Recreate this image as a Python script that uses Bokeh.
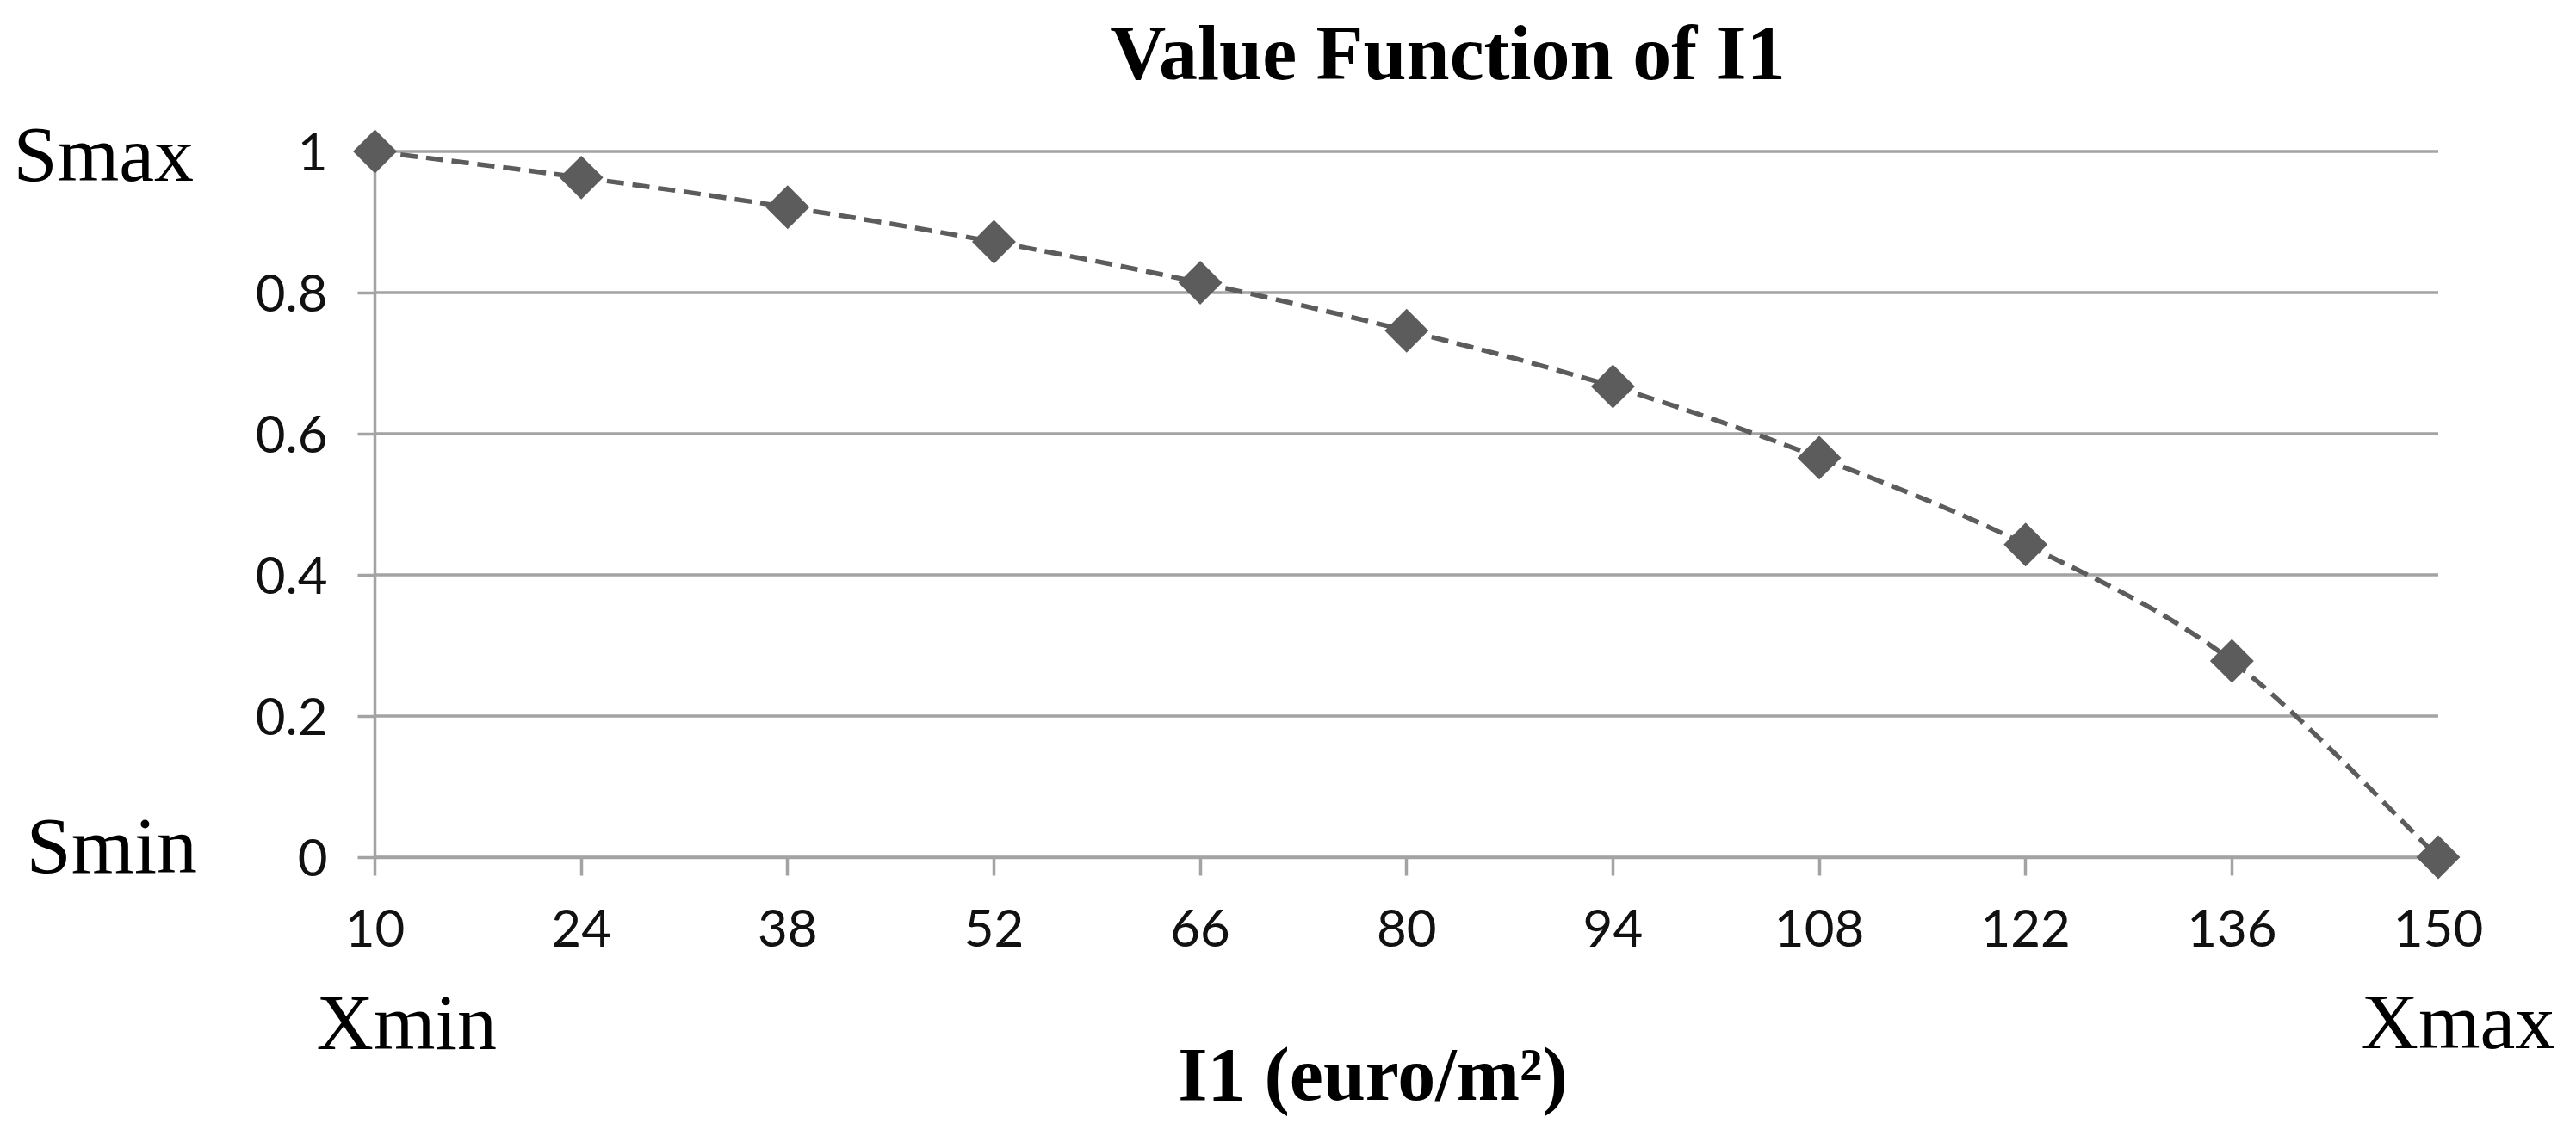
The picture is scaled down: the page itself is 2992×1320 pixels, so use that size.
import numpy as np
from bokeh.plotting import figure
from bokeh.models import Range1d, FixedTicker, CustomJSTickFormatter, Label
from bokeh.embed import file_html
from bokeh.resources import INLINE

# ---------------- data ----------------
chart_title = "Value Function of I1"
x_axis_title = "I1 (euro/m\u00b2)"
x_values = [10, 24, 38, 52, 66, 80, 94, 108, 122, 136, 150]
x_tick_labels = ["10", "24", "38", "52", "66", "80", "94", "108", "122", "136", "150"]
s_values = [1.0, 0.963, 0.921, 0.872, 0.814, 0.746, 0.667, 0.566, 0.443, 0.278, 0.0]
y_ticks = [0, 0.2, 0.4, 0.6, 0.8, 1.0]
y_tick_labels = ["0", "0.2", "0.4", "0.6", "0.8", "1"]
s_max_label = "Smax"
s_min_label = "Smin"
x_min_label = "Xmin"
x_max_label = "Xmax"

# ---------------- layout (pixel geometry of the page) ----------------
W, H = 2976, 1304
OFF = 0
px_x0, px_x1 = 435.0, 2831.5     # x = first / last category
py_y1, py_y0 = 175.5, 995.5      # y = 1 / y = 0
sx = (px_x1 - px_x0) / (x_values[-1] - x_values[0])
sy = (py_y0 - py_y1) / (y_ticks[-1] - y_ticks[0])
x_lo = x_values[0] - (px_x0 - OFF) / sx
x_hi = x_lo + W / sx
y_hi = y_ticks[-1] + (py_y1 - OFF) / sy
y_lo = y_hi - H / sy


def X(px):
    return x_lo + (px - OFF) / sx


def Y(py):
    return y_hi - (py - OFF) / sy


GRID = "#a3a3a3"
SER = "#5c5c5c"

p = figure(width=W, height=H, x_range=Range1d(x_lo, x_hi), y_range=Range1d(y_lo, y_hi),
           title=None, toolbar_location=None, output_backend="svg", min_border=0)
p.outline_line_color = None
p.background_fill_color = "white"
p.border_fill_color = "white"
p.grid.visible = False

# horizontal gridlines across the category span
p.segment(x0=x_values[0], x1=x_values[-1], y0=y_ticks, y1=y_ticks,
          line_color=GRID, line_width=3.5)

# axes
xa = p.xaxis[0]
ya = p.yaxis[0]
xa.fixed_location = 0
ya.fixed_location = x_values[0]
xa.bounds = (x_values[0], x_values[-1])
ya.bounds = (y_ticks[0], y_ticks[-1])
xa.ticker = FixedTicker(ticks=x_values)
ya.ticker = FixedTicker(ticks=y_ticks)
xa.formatter = CustomJSTickFormatter(args=dict(vals=x_values, labs=x_tick_labels),
                                     code="const i = vals.indexOf(tick); return i >= 0 ? labs[i] : '';")
ya.formatter = CustomJSTickFormatter(args=dict(vals=y_ticks, labs=y_tick_labels),
                                     code="const i = vals.indexOf(tick); return i >= 0 ? labs[i] : '';")
for ax, tick_out, standoff in ((xa, 21, 40), (ya, 20, 35)):
    ax.axis_line_color = GRID
    ax.axis_line_width = 3.5
    ax.major_tick_line_color = GRID
    ax.major_tick_line_width = 3.5
    ax.major_tick_in = 0
    ax.major_tick_out = tick_out
    ax.minor_tick_line_color = None
    ax.major_label_text_font = "Lato"
    ax.major_label_text_font_size = "60px"
    ax.major_label_text_color = "#111111"
    ax.major_label_standoff = standoff

# smoothed dashed curve through the points (cubic Bezier segments)
xs = np.asarray(x_values, float)
ys = np.asarray(s_values, float)
xp = np.concatenate([[xs[0]], xs, [xs[-1]]])
yp = np.concatenate([[ys[0]], ys, [ys[-1]]])
n = len(xs)
cx0 = xs[:-1] + (xp[2:n + 1] - xp[0:n - 1]) / 6.0
cy0 = ys[:-1] + (yp[2:n + 1] - yp[0:n - 1]) / 6.0
cx1 = xs[1:] - (xp[3:n + 2] - xp[1:n]) / 6.0
cy1 = ys[1:] - (yp[3:n + 2] - yp[1:n]) / 6.0
curve = p.bezier(x0=xs[:-1], y0=ys[:-1], x1=xs[1:], y1=ys[1:],
                 cx0=cx0, cy0=cy0, cx1=cx1, cy1=cy1,
                 line_color=SER, line_width=5.5, line_dash="20 10")
curve.level = "overlay"

pts = p.scatter(x=x_values, y=s_values, marker="square", size=36, angle=np.pi / 4,
                fill_color=SER, line_color=None)
pts.level = "overlay"

BASE_FIX = 32  # Bokeh's alphabetic placement sits lower than the requested baseline


def add_label(text, px, py, size, bold=False, align="left"):
    p.add_layout(Label(x=X(px), y=Y(py - BASE_FIX), text=text, text_font="Liberation Serif",
                       text_font_size=size, text_font_style="bold" if bold else "normal",
                       text_color="black", text_align=align, text_baseline="alphabetic"))


add_label(chart_title, 1681, 93, "90px", bold=True, align="center")
add_label(x_axis_title, 1594, 1280, "88px", bold=True, align="center")
add_label(s_max_label, 15, 210, "92px")
add_label(s_min_label, 30, 1013, "94px")
add_label(x_min_label, 367, 1219, "92px")
add_label(x_max_label, 2742, 1218, "92px")

open("out.html", "w").write(file_html(p, INLINE))
